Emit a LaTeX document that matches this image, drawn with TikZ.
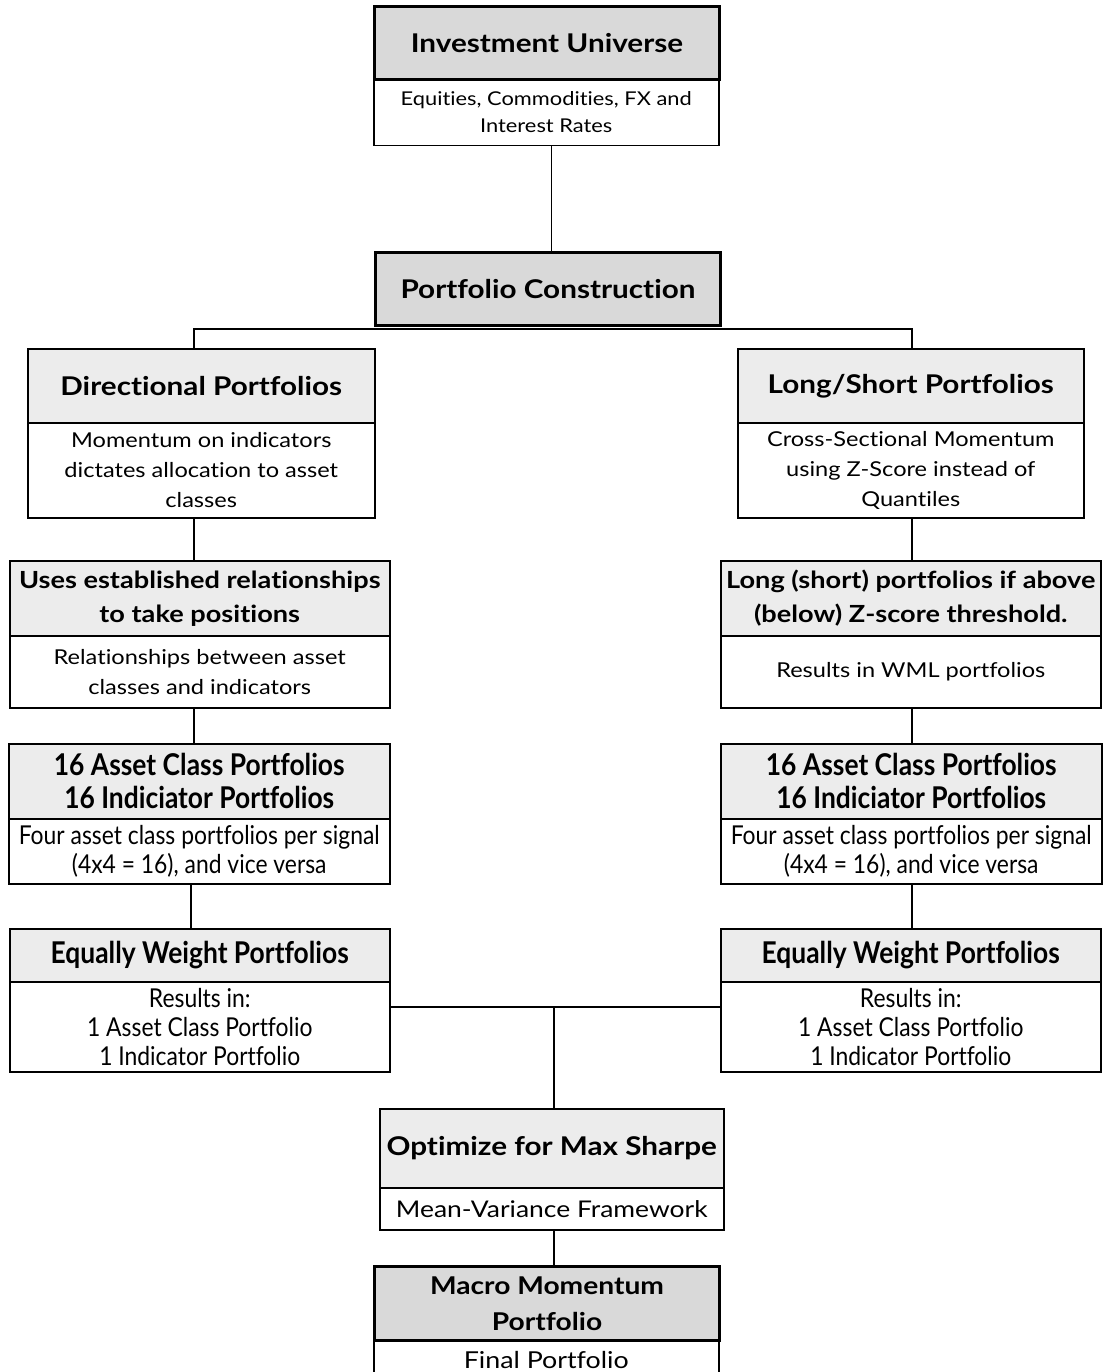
\documentclass[tikz,border=0pt]{standalone}
\usepackage{fontspec}
\setmainfont[FakeStretch=1.15, Ligatures={NoCommon}]{Lato}
\newfontfamily\condfont[FakeStretch=0.88, Ligatures={NoCommon}]{Lato}
\definecolor{hdd}{RGB}{217,217,217}
\definecolor{hdl}{RGB}{236,236,236}
\newcommand\titlef{\fontsize{25.8}{34}\selectfont\bfseries}
\newcommand\stitlef{\fontsize{23.6}{34}\selectfont\bfseries}
\newcommand\bodyf{\fontsize{20.5}{30}\selectfont}
\newcommand\ctitlef{\condfont\fontsize{30}{33}\selectfont\bfseries}
\newcommand\cbodyf{\condfont\fontsize{26}{28.5}\selectfont}
\tikzset{
  box/.style={draw, line width=1.5pt, inner sep=0pt, anchor=north west, align=center},
  hd/.style={box, fill=hdl, font=\titlef},
  shd/.style={box, fill=hdl, font=\stitlef},
  hdk/.style={box, fill=hdd, line width=3pt, font=\titlef},
  bd/.style={box, fill=white, font=\bodyf},
  chd/.style={hd, font=\ctitlef},
  cbd/.style={bd, font=\cbodyf},
  ln/.style={line width=1.5pt},
}
\begin{document}
\begin{tikzpicture}[x=1pt,y=-1pt]
\useasboundingbox (0,0) rectangle (1103,1372);
\clip (0,0) rectangle (1103,1372);
\fill[white] (0,0) rectangle (1103,1372);
% top
\node[bd, minimum width=345, minimum height=67, font=\fontsize{19}{27}\selectfont] (iub) at (373,78) {Equities, Commodities, FX and\\Interest Rates};
\node[hdk, minimum width=345, minimum height=73] (iu) at (373,5) {Investment Universe};
\node[hdk, minimum width=345, minimum height=73] (pc) at (374,251) {Portfolio Construction};
% left column
\node[bd, minimum width=347, minimum height=95] (dirb) at (27,422) {Momentum on indicators\\dictates allocation to asset\\classes};
\node[hd, minimum width=347, minimum height=74] (dir) at (27,348) {Directional Portfolios};
\node[bd, minimum width=380, minimum height=72] (ueb) at (9,635) {Relationships between asset\\classes and indicators};
\node[shd, minimum width=380, minimum height=75] (ue) at (9,560) {Uses established relationships\\to take positions};
\node[cbd, minimum width=381, minimum height=65] (acLb) at (8,818) {Four asset class portfolios per signal\\(4x4 = 16), and vice versa};
\node[chd, minimum width=381, minimum height=75] (acL) at (8,743) {16 Asset Class Portfolios\\16 Indiciator Portfolios};
\node[cbd, minimum width=380, minimum height=90, font=\condfont\fontsize{26}{29}\selectfont] (ewLb) at (9,981) {Results in:\\1 Asset Class Portfolio\\1 Indicator Portfolio};
\node[chd, minimum width=380, minimum height=53] (ewL) at (9,928) {Equally Weight Portfolios};
% right column
\node[bd, minimum width=346, minimum height=95] (lsb) at (737,422) {Cross-Sectional Momentum\\using Z-Score instead of\\Quantiles};
\node[hd, minimum width=346, minimum height=74] (ls) at (737,348) {Long/Short Portfolios};
\node[bd, minimum width=380, minimum height=72] (lob) at (720,635) {Results in WML portfolios};
\node[shd, minimum width=380, minimum height=75] (lo) at (720,560) {Long (short) portfolios if above\\(below) Z-score threshold.};
\node[cbd, minimum width=381, minimum height=65] (acRb) at (720,818) {Four asset class portfolios per signal\\(4x4 = 16), and vice versa};
\node[chd, minimum width=381, minimum height=75] (acR) at (720,743) {16 Asset Class Portfolios\\16 Indiciator Portfolios};
\node[cbd, minimum width=380, minimum height=90, font=\condfont\fontsize{26}{29}\selectfont] (ewRb) at (720,981) {Results in:\\1 Asset Class Portfolio\\1 Indicator Portfolio};
\node[chd, minimum width=380, minimum height=53] (ewR) at (720,928) {Equally Weight Portfolios};
% bottom
\node[bd, minimum width=344, minimum height=42, font=\fontsize{23}{30}\selectfont] (optb) at (379,1187) {Mean-Variance Framework};
\node[hd, minimum width=344, minimum height=79] (opt) at (379,1108) {Optimize for Max Sharpe};
\node[bd, minimum width=345, minimum height=40, font=\fontsize{23.3}{30}\selectfont] (mmb) at (373,1339) {Final Portfolio};
\node[hdk, minimum width=345, minimum height=74, font=\fontsize{24.5}{36}\selectfont\bfseries] (mm) at (373,1265) {Macro Momentum\\Portfolio};
% connectors
\draw[ln] ([xshift=5]iub.south) -- ([xshift=5]iub.south |- pc.north);
\draw[ln] ([xshift=-7.5]dir.north) |- ([yshift=-2]pc.south) -| ([xshift=1]ls.north);
\draw[ln] ([xshift=-7.5]dirb.south) -- ([xshift=-7.5]dirb.south |- ue.north);
\draw[ln] ([xshift=1]lsb.south) -- ([xshift=1]lsb.south |- lo.north);
\draw[ln] ([xshift=-6]ueb.south) -- ([xshift=-6]ueb.south |- acL.north);
\draw[ln] ([xshift=1]lob.south) -- ([xshift=1]lob.south |- acR.north);
\draw[ln] ([xshift=-8.5]acLb.south) -- ([xshift=-8.5]acLb.south |- ewL.north);
\draw[ln] ([xshift=0.5]acRb.south) -- ([xshift=0.5]acRb.south |- ewR.north);
\coordinate (j) at (554,1007);
\draw[ln] (ewLb.east |- j) -- (ewRb.west |- j);
\draw[ln] (j) -- (j |- opt.north);
\draw[ln] ([xshift=2]optb.south) -- ([xshift=2]optb.south |- mm.north);
\end{tikzpicture}
\end{document}
